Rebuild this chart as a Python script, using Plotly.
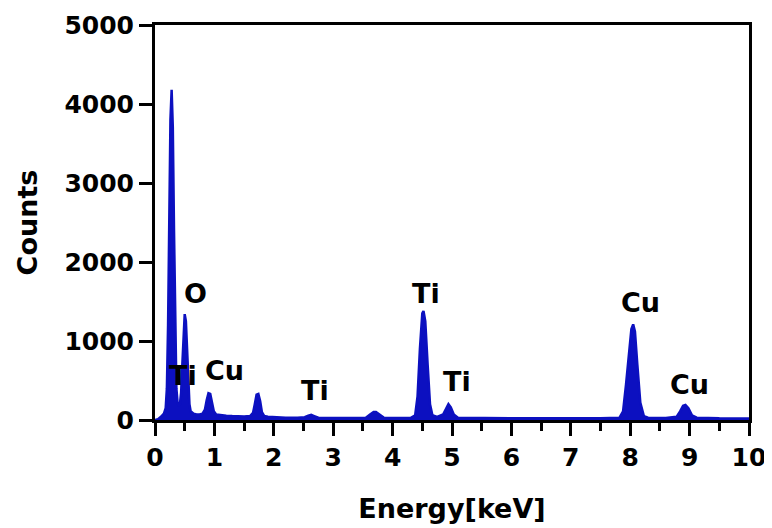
import plotly.graph_objects as go

energy = [0.00, 0.05, 0.10, 0.15, 0.18, 0.20, 0.22, 0.24, 0.26, 0.28, 0.30, 0.32, 0.34, 0.36, 0.38,
          0.40, 0.42, 0.44, 0.46, 0.48, 0.50, 0.52, 0.54, 0.56, 0.58, 0.60, 0.65, 0.70, 0.75, 0.80,
          0.84, 0.87, 0.90, 0.93, 0.96, 0.99, 1.03, 1.10, 1.20, 1.30, 1.40, 1.50, 1.60, 1.65, 1.68,
          1.71, 1.74, 1.77, 1.80, 1.84, 1.90, 2.00, 2.20, 2.40, 2.52, 2.58, 2.63, 2.68, 2.75, 3.00,
          3.30, 3.55, 3.62, 3.68, 3.72, 3.78, 3.85, 4.00, 4.30, 4.38, 4.42, 4.46, 4.50, 4.52, 4.55,
          4.59, 4.63, 4.67, 4.75, 4.85, 4.90, 4.94, 4.98, 5.03, 5.10, 5.50, 6.00, 6.50, 7.00, 7.50,
          7.82, 7.88, 7.93, 7.98, 8.02, 8.05, 8.08, 8.12, 8.17, 8.23, 8.30, 8.60, 8.78, 8.84, 8.89,
          8.93, 8.98, 9.04, 9.12, 9.50, 10.00]
counts = [0, 10, 40, 80, 150, 400, 1200, 2600, 3800, 4180, 3700, 2400, 1100, 400, 220,
          180, 200, 350, 700, 1150, 1340, 1250, 900, 450, 200, 110, 80, 70, 70, 80,
          130, 250, 340, 330, 220, 110, 70, 60, 55, 50, 45, 45, 50, 90, 200,
          320, 330, 240, 100, 50, 40, 35, 30, 30, 35, 55, 65, 50, 30, 25,
          25, 30, 70, 100, 100, 65, 30, 25, 25, 60, 300, 900, 1350, 1380, 1250,
          700, 200, 60, 40, 70, 150, 200, 160, 70, 30, 25, 22, 22, 20, 22,
          30, 110, 450, 900, 1150, 1210, 1120, 700, 220, 50, 30, 25, 40, 110, 180,
          190, 150, 60, 30, 22, 20]

peak_labels = ["O", "Ti", "Cu", "Ti", "Ti", "Ti", "Cu", "Cu"]
label_x = [0.68, 0.47, 1.17, 2.69, 4.56, 5.08, 8.17, 9.00]
label_y = [1603, 568, 631, 379, 1603, 492, 1490, 455]

x_ticks = list(range(0, 11))
y_ticks = [0, 1000, 2000, 3000, 4000, 5000]

BLUE = "#0c10c0"
FONT = "DejaVu Sans, Arial, sans-serif"

fig = go.Figure()
fig.add_trace(go.Scatter(x=energy, y=counts, mode="lines", fill="tozeroy",
                         line=dict(color=BLUE, width=2.5), fillcolor=BLUE,
                         hoverinfo="skip", showlegend=False))

for t, x, y in zip(peak_labels, label_x, label_y):
    fig.add_annotation(x=x, y=y, text=t, showarrow=False,
                       font=dict(family=FONT, size=27, color="black", weight="bold"))

axis_common = dict(showline=True, linecolor="black", linewidth=3, mirror=True,
                   ticks="outside", ticklen=13, tickwidth=3, tickcolor="black",
                   showgrid=False, zeroline=False, automargin=False,
                   tickfont=dict(family=FONT, size=25, color="black", weight="bold"))

fig.update_xaxes(range=[0, 10], tickvals=x_ticks, ticktext=[str(v) for v in x_ticks],
                 minor=dict(tickvals=[v + 0.5 for v in x_ticks[:-1]], ticks="outside",
                            ticklen=8, tickwidth=3, tickcolor="black"),
                 title=dict(text="Energy[keV]", standoff=29,
                            font=dict(family=FONT, size=27, color="black", weight="bold")),
                 **axis_common)
fig.update_yaxes(range=[0, 5000], tickvals=y_ticks, ticktext=[str(v) for v in y_ticks],
                 title=dict(text="Counts", standoff=19,
                            font=dict(family=FONT, size=27, color="black", weight="bold")),
                 **axis_common)

fig.update_layout(width=764, height=520, margin=dict(l=147, r=23, t=17, b=108),
                  plot_bgcolor="white", paper_bgcolor="white")

fig.write_html("out.html")
